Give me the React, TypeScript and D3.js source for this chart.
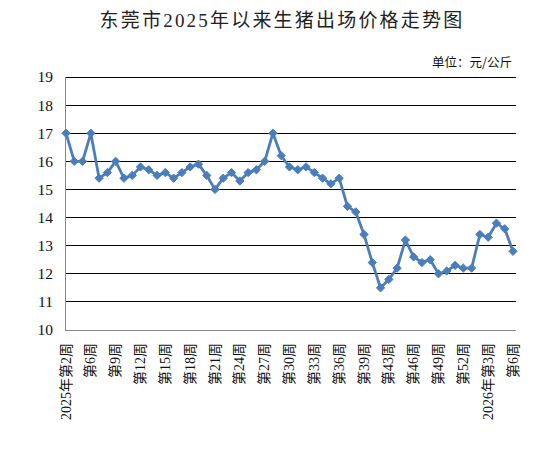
import React from "react";
import * as d3 from "d3";

const categories: string[] = [
  "2025年第2周", "第3周", "第4周", "第6周", "第7周", "第8周", "第9周", "第10周", "第11周", "第12周",
  "第13周", "第14周", "第15周", "第16周", "第17周", "第18周", "第19周", "第20周", "第21周", "第22周",
  "第23周", "第24周", "第25周", "第26周", "第27周", "第28周", "第29周", "第30周", "第31周", "第32周",
  "第33周", "第34周", "第35周", "第36周", "第37周", "第38周", "第39周", "第40周", "第41周", "第43周",
  "第44周", "第45周", "第46周", "第47周", "第48周", "第49周", "第50周", "第51周", "第52周", "第1周",
  "第2周", "2026年第3周", "第4周", "第5周", "第6周",
];

const prices: number[] = [
  17.0, 16.0, 16.0, 17.0, 15.4, 15.6, 16.0, 15.4, 15.5, 15.8,
  15.7, 15.5, 15.6, 15.4, 15.6, 15.8, 15.9, 15.5, 15.0, 15.4,
  15.6, 15.3, 15.6, 15.7, 16.0, 17.0, 16.2, 15.8, 15.7, 15.8,
  15.6, 15.4, 15.2, 15.4, 14.4, 14.2, 13.4, 12.4, 11.5, 11.8,
  12.2, 13.2, 12.6, 12.4, 12.5, 12.0, 12.1, 12.3, 12.2, 12.2,
  13.4, 13.3, 13.8, 13.6, 12.8,
];

const yTicks: number[] = [10, 11, 12, 13, 14, 15, 16, 17, 18, 19];

const title = "东莞市2025年以来生猪出场价格走势图";
const unitLabel = "单位：元/公斤";

const W = 554;
const H = 452;
const plotLeft = 65;
const plotRight = 516;
const plotTop = 77;
const plotBottom = 330;
const serif = "'Liberation Serif', 'Times New Roman', 'Noto Sans CJK SC', serif";
const cjk = "'Liberation Serif', 'Noto Sans CJK SC', sans-serif";

export default function App() {
  const x = d3
    .scalePoint<number>()
    .domain(d3.range(categories.length))
    .range([66, 513]);
  const y = d3.scaleLinear().domain([10, 19]).range([plotBottom, plotTop]);

  const line = d3
    .line<number>()
    .x((_, i) => x(i) as number)
    .y((d) => y(d));

  const diamond = d3.symbol().type(d3.symbolDiamond2).size(44)();

  const labelIdx = d3.range(0, categories.length, 3);

  return (
    <svg
      width={W}
      height={H}
      style={{ position: "absolute", left: 0, top: 0, background: "#fff" }}
    >
      <rect width={W} height={H} fill="#fff" />
      <text
        x={282}
        y={27}
        textAnchor="middle"
        fontFamily={serif}
        fontSize={19}
        letterSpacing={2.2}
        fill="#222"
      >
        {title}
      </text>
      <text
        x={512}
        y={67}
        textAnchor="end"
        fontFamily="'Noto Sans CJK SC', sans-serif"
        fontSize={12.5}
        fill="#111"
      >
        {unitLabel}
      </text>

      {yTicks.map((t) => (
        <g key={t}>
          {t > 10 && (
            <line
              x1={plotLeft}
              x2={plotRight}
              y1={y(t)}
              y2={y(t)}
              stroke="#000"
              strokeWidth={1}
              shapeRendering="crispEdges"
            />
          )}
          <text
            x={53}
            y={y(t)}
            dy="0.35em"
            textAnchor="end"
            fontFamily={serif}
            fontSize={15.5}
            fill="#111"
          >
            {t}
          </text>
        </g>
      ))}

      <line
        x1={plotLeft}
        x2={plotLeft}
        y1={plotTop}
        y2={plotBottom}
        stroke="#868686"
        strokeWidth={1}
        shapeRendering="crispEdges"
      />
      <line
        x1={plotLeft}
        x2={plotRight}
        y1={plotBottom}
        y2={plotBottom}
        stroke="#868686"
        strokeWidth={1}
        shapeRendering="crispEdges"
      />

      {labelIdx.map((i) => (
        <text
          key={i}
          transform={`translate(${x(i)},${343}) rotate(-90)`}
          textAnchor="end"
          dominantBaseline="central"
          fontFamily={cjk}
          fontSize={14}
          fill="#111"
        >
          {categories[i]}
        </text>
      ))}

      <path
        d={line(prices) || ""}
        fill="none"
        stroke="#4a7ebb"
        strokeWidth={2.8}
        strokeLinejoin="round"
      />
      {prices.map((p, i) => (
        <path
          key={i}
          d={diamond || ""}
          transform={`translate(${x(i)},${y(p)})`}
          fill="#4a7ebb"
          stroke="#4a7ebb"
          strokeWidth={1}
        />
      ))}
    </svg>
  );
}
